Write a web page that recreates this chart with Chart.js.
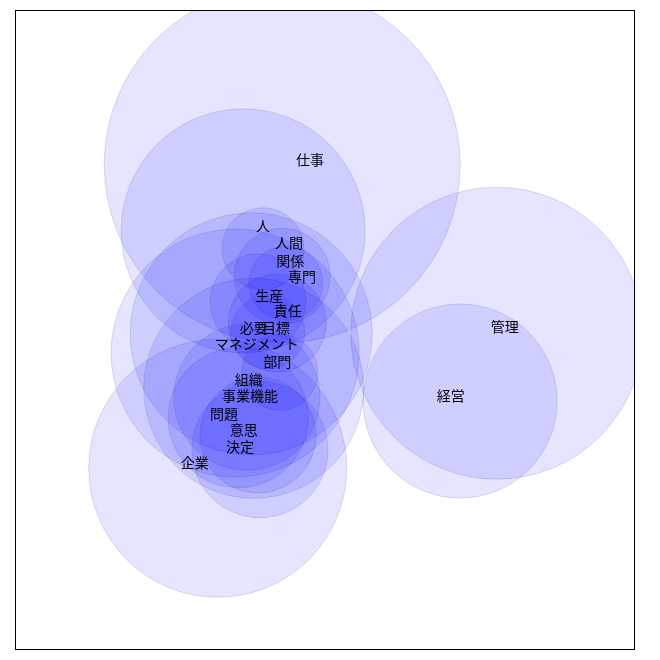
<!DOCTYPE html>
<html>
<head>
<meta charset="utf-8">
<script src="https://cdn.jsdelivr.net/npm/chart.js@4/dist/chart.umd.min.js"></script>
<style>
  html, body { margin: 0; padding: 0; background: #fff; }
</style>
</head>
<body>
<canvas id="chart" width="660" height="660"></canvas>
<script>
// words, bubble centres (0-100 space), bubble radii (px), label positions
var words  = ['仕事', '人間', '管理', '経営', '企業', 'マネジメント', '必要', '組織', '人', '関係',
              '専門', '生産', '責任', '目標', '部門', '事業機能', '問題', '意思', '決定'];
var xs     = [43.1, 36.8, 77.7, 71.8, 32.7, 35.5, 38.1, 38.5, 40.0, 43.1,
              43.7, 39.2, 42.3, 40.8, 42.7, 37.4, 36.0, 39.2, 39.5];
var ys     = [75.8, 65.5, 49.5, 38.9, 28.4, 46.4, 49.4, 40.9, 62.7, 58.4,
              57.3, 54.4, 51.1, 49.7, 43.4, 39.5, 36.3, 33.6, 31.3];
var sizes  = [178, 122, 146, 97, 129, 124, 121, 110, 41, 48,
              37, 48, 49, 37, 38, 73, 70, 58, 68];
var labelX = [47.6, 44.2, 79.0, 70.3, 29.0, 39.0, 38.5, 37.7, 40.0, 44.4,
              46.3, 41.0, 44.0, 42.1, 42.3, 37.9, 33.7, 36.9, 36.3];
var labelY = [76.6, 63.6, 50.5, 39.8, 29.2, 47.8, 50.3, 42.2, 66.3, 60.8,
              58.3, 55.3, 53.0, 50.3, 45.0, 39.7, 37.0, 34.5, 31.7];

var points = words.map(function (w, i) {
    return { x: xs[i], y: ys[i], r: sizes[i] };
});

var frame = {
    id: 'frame',
    afterDraw: function (chart) {
        var ctx = chart.ctx;
        var a = chart.chartArea;
        ctx.save();
        ctx.strokeStyle = '#000';
        ctx.lineWidth = 1;
        ctx.strokeRect(Math.round(a.left) + 0.5, Math.round(a.top) + 0.5,
                       Math.round(a.right - a.left) - 1, Math.round(a.bottom - a.top) - 1);
        ctx.restore();
    }
};

var wordLabels = {
    id: 'wordLabels',
    afterDatasetsDraw: function (chart) {
        var ctx = chart.ctx;
        var sx = chart.scales.x, sy = chart.scales.y;
        ctx.save();
        ctx.font = '14px "Noto Sans CJK JP"';
        ctx.fillStyle = '#000';
        ctx.textAlign = 'center';
        ctx.textBaseline = 'middle';
        words.forEach(function (w, i) {
            ctx.fillText(w, sx.getPixelForValue(labelX[i]), sy.getPixelForValue(labelY[i]));
        });
        ctx.restore();
    }
};

new Chart(document.getElementById('chart'), {
    type: 'bubble',
    data: {
        datasets: [{
            data: points,
            backgroundColor: 'rgba(0, 0, 255, 0.1)',
            borderColor: 'rgba(40, 40, 100, 0.15)',
            borderWidth: 1,
            clip: 0
        }]
    },
    options: {
        responsive: false,
        animation: false,
        layout: { autoPadding: false, padding: { left: 15, top: 10, right: 25, bottom: 10 } },
        scales: {
            x: { type: 'linear', min: 0, max: 100, display: false },
            y: { type: 'linear', min: 0, max: 100, display: false }
        },
        plugins: {
            legend: { display: false },
            tooltip: { enabled: false }
        }
    },
    plugins: [frame, wordLabels]
});
</script>
</body>
</html>
